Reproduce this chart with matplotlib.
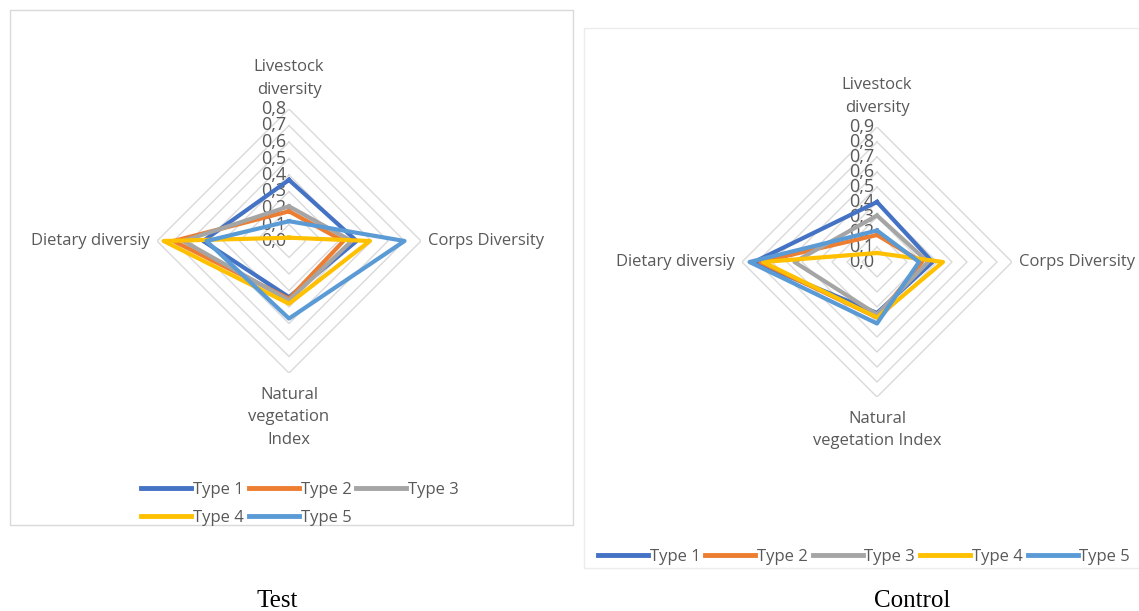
import numpy as np
import matplotlib
matplotlib.use("Agg")
import matplotlib.pyplot as plt
from matplotlib.patches import Rectangle
from matplotlib.lines import Line2D

# axes order: top, right, bottom, left
categories = ["Livestock diversity", "Corps Diversity", "Natural vegetation Index", "Dietary diversiy"]
series_names = ["Type 1", "Type 2", "Type 3", "Type 4", "Type 5"]
colors = ["#4472C4", "#ED7D31", "#A5A5A5", "#FFC000", "#5B9BD5"]

test_type1 = [0.37, 0.41, 0.34, 0.52]
test_type2 = [0.18, 0.33, 0.35, 0.70]
test_type3 = [0.21, 0.38, 0.36, 0.64]
test_type4 = [0.02, 0.49, 0.38, 0.76]
test_type5 = [0.12, 0.70, 0.47, 0.50]

control_type1 = [0.40, 0.37, 0.34, 0.82]
control_type2 = [0.18, 0.30, 0.37, 0.78]
control_type3 = [0.31, 0.34, 0.35, 0.55]
control_type4 = [0.06, 0.44, 0.37, 0.76]
control_type5 = [0.21, 0.28, 0.41, 0.85]

test_ticks = [0.0, 0.1, 0.2, 0.3, 0.4, 0.5, 0.6, 0.7, 0.8]
control_ticks = [0.0, 0.1, 0.2, 0.3, 0.4, 0.5, 0.6, 0.7, 0.8, 0.9]

W, H = 1139, 611
fig = plt.figure(figsize=(W / 100, H / 100), dpi=100)
plt.rcParams['font.family'] = ['Open Sans', 'DejaVu Sans']
txt_col = "#595959"


def px(x0, y0, w, h):
    return [x0 / W, 1 - (y0 + h) / H, w / W, h / H]


def radar(rect, data, ticks, labels):
    ax = fig.add_axes(rect, projection="polar")
    ax.set_theta_zero_location("N")
    ax.set_theta_direction(-1)
    ang = np.arange(4) * np.pi / 2
    closed = np.append(ang, ang[0])
    ax.set_ylim(0, ticks[-1])
    ax.grid(False)
    ax.spines["polar"].set_visible(False)
    ax.set_xticks([])
    ax.set_yticks([])
    ax.patch.set_alpha(0)
    for t in ticks[1:]:
        ax.plot(closed, [t] * 5, color="#d9d9d9", lw=1, zorder=1)
    for t in ticks:
        ax.annotate(f"{t:.1f}".replace(".", ","), (0, t), xytext=(-2, 0),
                    textcoords="offset points", ha="right", va="center",
                    fontsize=13, color=txt_col, zorder=2)
    for vals, c, n in zip(data, colors, series_names):
        ax.plot(closed, vals + vals[:1], color=c, lw=3, label=n, zorder=3)
    rmax = ticks[-1]
    offs = [(0, 8), (5, 0), (0, -10), (-5, 0)]
    aligns = [("center", "bottom"), ("left", "center"), ("center", "top"), ("right", "center")]
    for a, l, o, al in zip(ang, labels, offs, aligns):
        ax.annotate(l, (a, rmax), xytext=o, textcoords="offset points",
                    ha=al[0], va=al[1], fontsize=12, color=txt_col,
                    multialignment="center", linespacing=1.55)
    return ax


# panel frames
fig.patches.append(Rectangle((10 / W, 1 - 525 / H), 563 / W, 515 / H, transform=fig.transFigure,
                             fill=False, edgecolor="#d9d9d9", lw=1))
fig.patches.append(Rectangle((584 / W, 1 - 568 / H), 560 / W, 540 / H, transform=fig.transFigure,
                             fill=False, edgecolor="#ececec", lw=1))

test_labels = ["Livestock\ndiversity", "Corps Diversity", "Natural\nvegetation\nIndex", "Dietary diversiy"]
control_labels = ["Livestock\ndiversity", "Corps Diversity", "Natural\nvegetation Index", "Dietary diversiy"]

ax1 = radar(px(157, 109, 264, 264),
            [test_type1, test_type2, test_type3, test_type4, test_type5],
            test_ticks, test_labels)
ax2 = radar(px(742, 127, 270, 270),
            [control_type1, control_type2, control_type3, control_type4, control_type5],
            control_ticks, control_labels)

handles = [Line2D([], [], color=c, lw=3.5) for c in colors]
order = [0, 3, 1, 4, 2]
fig.legend([handles[i] for i in order], [series_names[i] for i in order],
           ncol=3, loc="center", bbox_to_anchor=(300 / W, 1 - 504 / H), frameon=False,
           fontsize=12, handlelength=3.0, handletextpad=0.1, columnspacing=0.3,
           labelspacing=0.75, labelcolor=txt_col)
fig.legend(handles, series_names, ncol=5, loc="center",
           bbox_to_anchor=(864 / W, 1 - 557 / H), frameon=False,
           fontsize=12, handlelength=3.0, handletextpad=0.1, columnspacing=0.3,
           labelcolor=txt_col)

fig.text(277 / W, 1 - 601 / H, "Test", ha="center", va="center",
         fontsize=18, family=["Liberation Serif", "DejaVu Serif"])
fig.text(912 / W, 1 - 601 / H, "Control", ha="center", va="center",
         fontsize=18, family=["Liberation Serif", "DejaVu Serif"])

fig.savefig("out.png", dpi=100)
